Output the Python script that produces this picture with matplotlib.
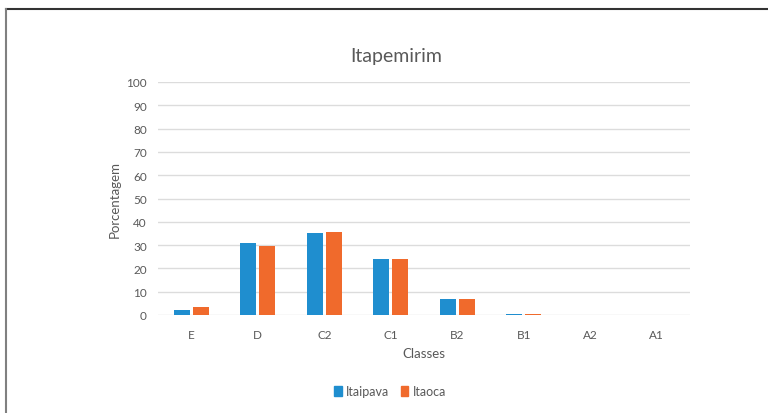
import matplotlib
matplotlib.use("Agg")
import matplotlib.pyplot as plt
import numpy as np
from matplotlib.lines import Line2D
from matplotlib.patches import Patch

categories = ["E", "D", "C2", "C1", "B2", "B1", "A2", "A1"]
itaipava = [2.0, 31.0, 35.3, 24.0, 6.7, 0.4, 0.0, 0.0]
itaoca = [3.3, 29.7, 35.8, 24.0, 6.7, 0.3, 0.0, 0.0]
series_names = ["Itaipava", "Itaoca"]
yticks = [0, 10, 20, 30, 40, 50, 60, 70, 80, 90, 100]

plt.rcParams['font.family'] = ['Lato', 'DejaVu Sans']
text_color = "#595959"
blue = "#1F8ECF"
orange = "#F06A2C"

fig = plt.figure(figsize=(7.68, 4.14), dpi=100)
fig.patch.set_facecolor("white")
ax = fig.add_axes([158/768, 1-316/414, (690-158)/768, (316-83)/414])

x = np.arange(len(categories))
w = 0.235
off = 0.142
ax.bar(x - off, itaipava, width=w, color=blue, zorder=3)
ax.bar(x + off, itaoca, width=w, color=orange, zorder=3)

ax.set_xlim(-0.5, len(categories) - 0.5)
ax.set_ylim(0, 100)
ax.set_yticks(yticks)
ax.set_yticklabels([str(v) for v in yticks])
ax.set_xticks(x)
ax.set_xticklabels(categories)
ax.grid(axis="y", color="#DCDCDC", linewidth=1.0, zorder=0)
ax.grid(axis="x", visible=False)
for s in ax.spines.values():
    s.set_visible(False)
ax.tick_params(axis="both", length=0, colors=text_color, labelsize=8.5)
ax.tick_params(axis="y", pad=8)
ax.tick_params(axis="x", pad=10)

fig.text(396/768, 1-57/414, "Itapemirim", ha="center", va="center",
         fontsize=14, color=text_color)
fig.text(115/768, 1-200/414, "Porcentagem", ha="center", va="center",
         rotation=90, fontsize=9.5, color=text_color)
fig.text(424/768, 1-354/414, "Classes", ha="center", va="center",
         fontsize=9.5, color=text_color)

handles = [Patch(color=blue), Patch(color=orange)]
fig.legend(handles, series_names, loc="center", bbox_to_anchor=(390/768, 1-392/414),
           ncol=2, frameon=False, fontsize=9, handlelength=0.6, handleheight=0.9,
           handletextpad=0.35, columnspacing=0.9, labelcolor=text_color)

# outer frame lines (top and left)
fig.add_artist(Line2D([5.5/768, 1.0], [1-9.5/414, 1-9.5/414], transform=fig.transFigure,
                      color="#333333", linewidth=1.5))
fig.add_artist(Line2D([5.5/768, 5.5/768], [0, 1-9.5/414], transform=fig.transFigure,
                      color="#808080", linewidth=1.5))

fig.savefig("out.png", dpi=100, facecolor="white")
